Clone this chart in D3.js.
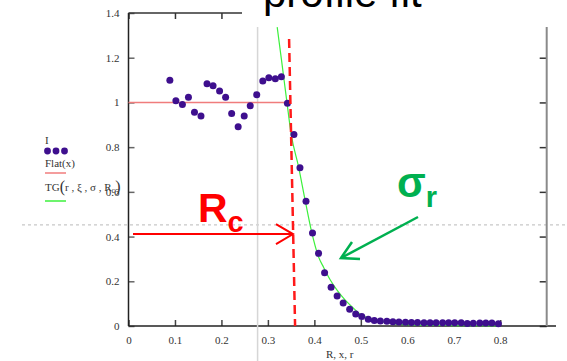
<!DOCTYPE html>
<html>
<head>
<meta charset="utf-8">
<script src="https://cdn.jsdelivr.net/npm/d3@7"></script>
<style>
  body { margin: 0; background: #fff; }
  svg { display: block; }
  .tick text { font-family: "Liberation Serif", "Times New Roman", serif; font-size: 11px; fill: #333; }
</style>
</head>
<body>
<svg id="chart" width="567" height="361"></svg>
<script>
// measured profile I(r)
const rValues = [0.089, 0.102, 0.116, 0.129, 0.142, 0.156, 0.169, 0.182, 0.196, 0.209,
  0.222, 0.236, 0.249, 0.262, 0.276, 0.289, 0.302, 0.316, 0.329, 0.342,
  0.356, 0.369, 0.382, 0.396, 0.409, 0.422, 0.436, 0.449, 0.462, 0.476,
  0.489, 0.502, 0.516, 0.529, 0.542, 0.556, 0.569, 0.582, 0.596, 0.609,
  0.622, 0.636, 0.649, 0.662, 0.676, 0.689, 0.702, 0.716, 0.729, 0.742,
  0.756, 0.769, 0.782, 0.796];
const iValues = [1.099, 1.008, 0.991, 1.023, 0.956, 0.939, 1.084, 1.075, 1.051, 1.023,
  0.951, 0.891, 0.939, 0.985, 1.034, 1.096, 1.110, 1.106, 1.115, 0.996,
  0.856, 0.708, 0.558, 0.416, 0.325, 0.238, 0.173, 0.134, 0.103, 0.075,
  0.054, 0.042, 0.030, 0.025, 0.022, 0.021, 0.019, 0.018, 0.017, 0.016,
  0.016, 0.015, 0.015, 0.015, 0.014, 0.014, 0.015, 0.014, 0.011, 0.012,
  0.013, 0.013, 0.013, 0.010];

// fitted curve TG(r, xi, sigma, Rc)
const fitR = [0.320, 0.330, 0.341, 0.350, 0.366, 0.380, 0.394, 0.409, 0.420, 0.434,
  0.450, 0.466, 0.482, 0.498, 0.520, 0.542, 0.565, 0.585, 0.620, 0.700, 0.800];
const fitI = [1.337, 1.178, 1.000, 0.859, 0.712, 0.564, 0.422, 0.309, 0.262, 0.207,
  0.157, 0.117, 0.084, 0.054, 0.033, 0.020, 0.012, 0.007, 0.004, 0.002, 0.001];

// Flat(x) level and markers
const flatLevel = 1;
const flatEnd = 0.346;
const rcTop = [0.3456, 1.2835];
const rcBottom = [0.3585, 0];
const rcArrow = [0.0097, 0.354, 0.411];
const greyLineX = 0.2778;
const dottedY = 0.452;

const xTicks = [0, 0.1, 0.2, 0.3, 0.4, 0.5, 0.6, 0.7, 0.8];
const yTicks = [0, 0.2, 0.4, 0.6, 0.8, 1, 1.2, 1.4];

const svg = d3.select('#chart');

const x = d3.scaleLinear().domain([0, 0.9]).range([128.5, 546.7]);
const y = d3.scaleLinear().domain([0, 1.4]).range([326, 13]);

const fmt = d => d === 0 ? '0' : d3.format('~g')(d);

// dotted grey guide across the page
svg.append('line')
  .attr('x1', 22).attr('x2', 567)
  .attr('y1', y(dottedY)).attr('y2', y(dottedY))
  .attr('stroke', '#c8c8c8').attr('stroke-width', 1.2)
  .attr('stroke-dasharray', '3,3');

// left axis
const gLeft = svg.append('g').attr('transform', `translate(${x(0)},0)`)
  .call(d3.axisLeft(y).tickValues(yTicks).tickFormat(fmt).tickSizeInner(-6).tickSizeOuter(0).tickPadding(9));
gLeft.select('.domain').remove();
gLeft.selectAll('.tick line').attr('stroke', '#666').attr('stroke-width', 1.5);

// bottom axis
const gBottom = svg.append('g').attr('transform', `translate(0,${y(0)})`)
  .call(d3.axisBottom(x).tickValues(xTicks).tickFormat(fmt).tickSizeInner(-6).tickSizeOuter(0).tickPadding(10));
gBottom.select('.domain').remove();
gBottom.selectAll('.tick line').attr('stroke', '#444').attr('stroke-width', 1.5);

// top axis ticks
const gTop = svg.append('g').attr('transform', `translate(0,${y(1.4)})`)
  .call(d3.axisTop(x).tickValues(xTicks).tickFormat('').tickSizeInner(-6).tickSizeOuter(0));
gTop.select('.domain').remove();
gTop.selectAll('.tick line').attr('stroke', '#333').attr('stroke-width', 1.5);

// right axis ticks
const gRight = svg.append('g').attr('transform', `translate(${x(0.9)},0)`)
  .call(d3.axisRight(y).tickValues(yTicks).tickFormat('').tickSizeInner(-7).tickSizeOuter(0));
gRight.select('.domain').remove();
gRight.selectAll('.tick line').attr('stroke', '#333').attr('stroke-width', 1.5);

// frame
svg.append('line').attr('x1', x(0)).attr('x2', x(0)).attr('y1', y(1.4)).attr('y2', y(0))
  .attr('stroke', '#222').attr('stroke-width', 1.5);
svg.append('line').attr('x1', x(0)).attr('x2', x(0.92)).attr('y1', y(0)).attr('y2', y(0))
  .attr('stroke', '#222').attr('stroke-width', 1.5);
svg.append('line').attr('x1', x(0)).attr('x2', x(0.9)).attr('y1', y(1.4)).attr('y2', y(1.4))
  .attr('stroke', '#333').attr('stroke-width', 1.5);
svg.append('line').attr('x1', x(0.9)).attr('x2', x(0.9)).attr('y1', y(1.4)).attr('y2', y(0))
  .attr('stroke', '#8a8a8a').attr('stroke-width', 2);

// light grey vertical line
svg.append('line')
  .attr('x1', x(greyLineX)).attr('x2', x(greyLineX))
  .attr('y1', 27).attr('y2', 361)
  .attr('stroke', '#d6d6d6').attr('stroke-width', 1.5);

// Flat(x)
svg.append('line')
  .attr('x1', x(0)).attr('x2', x(flatEnd))
  .attr('y1', y(flatLevel)).attr('y2', y(flatLevel))
  .attr('stroke', '#f07c7c').attr('stroke-width', 1.5);

// TG fit
const fitData = fitR.map((r, i) => [r, fitI[i]]);
svg.append('path')
  .datum(fitData)
  .attr('fill', 'none')
  .attr('stroke', '#3cf03c')
  .attr('stroke-width', 1.2)
  .attr('d', d3.line().x(d => x(d[0])).y(d => y(d[1])).curve(d3.curveMonotoneX));

// data points
svg.append('g').selectAll('circle')
  .data(rValues.map((r, i) => [r, iValues[i]]))
  .enter().append('circle')
  .attr('cx', d => x(d[0]))
  .attr('cy', d => y(d[1]))
  .attr('r', 3.5)
  .attr('fill', '#3e0f8e');

// Rc dashed marker
svg.append('line')
  .attr('x1', x(rcTop[0])).attr('y1', y(rcTop[1]))
  .attr('x2', x(rcBottom[0])).attr('y2', y(rcBottom[1]))
  .attr('stroke', '#ff1a1a').attr('stroke-width', 2.5)
  .attr('stroke-dasharray', '9,5');

// white box behind the title
svg.append('rect').attr('x', 242).attr('y', 0).attr('width', 325).attr('height', 27).attr('fill', '#fff');
svg.append('text')
  .attr('x', 263).attr('y', 7)
  .attr('font-family', '"Liberation Sans", Arial, sans-serif')
  .attr('font-size', 42)
  .attr('fill', '#000')
  .text('profile fit');

// Rc arrow
const ay = y(rcArrow[2]), ax2 = x(rcArrow[1]);
svg.append('line')
  .attr('x1', x(rcArrow[0])).attr('x2', ax2).attr('y1', ay).attr('y2', ay)
  .attr('stroke', '#ff0000').attr('stroke-width', 2);
svg.append('path')
  .attr('d', `M${ax2 - 17},${ay - 10}L${ax2},${ay}L${ax2 - 17},${ay + 10}`)
  .attr('fill', 'none').attr('stroke', '#ff0000').attr('stroke-width', 2);

const rc = svg.append('text')
  .attr('x', 198).attr('y', 222)
  .attr('font-family', '"Liberation Sans", Arial, sans-serif')
  .attr('font-weight', 'bold')
  .attr('fill', '#ff0000')
  .attr('font-size', 41);
rc.append('tspan').text('R');
rc.append('tspan').attr('dy', 10).attr('font-size', 29).text('c');

// sigma_r arrow
svg.append('line')
  .attr('x1', 418).attr('y1', 217).attr('x2', 341).attr('y2', 258)
  .attr('stroke', '#00b050').attr('stroke-width', 2.5);
svg.append('path')
  .attr('d', 'M352,242L341,258L360,259')
  .attr('fill', 'none').attr('stroke', '#00b050').attr('stroke-width', 2.5);

const sg = svg.append('text')
  .attr('x', 397).attr('y', 197)
  .attr('font-family', '"Liberation Sans", Arial, sans-serif')
  .attr('font-weight', 'bold')
  .attr('fill', '#00b050')
  .attr('font-size', 42);
sg.append('tspan').text('σ');
sg.append('tspan').attr('dy', 10).attr('font-size', 29).text('r');

// axis title
svg.append('text')
  .attr('x', 326).attr('y', 358)
  .attr('font-family', '"Liberation Serif", "Times New Roman", serif')
  .attr('font-size', 11).attr('fill', '#333')
  .text('R, x, r');

// legend
const legend = svg.append('g')
  .attr('font-family', '"Liberation Serif", "Times New Roman", serif')
  .attr('font-size', 11).attr('fill', '#333');
legend.append('text').attr('x', 45).attr('y', 144).text('I');
legend.selectAll('circle').data([47.5, 56, 64.5]).enter().append('circle')
  .attr('cx', d => d).attr('cy', 151).attr('r', 3.4).attr('fill', '#3e0f8e');
legend.append('text').attr('x', 45).attr('y', 167).text('Flat(x)');
legend.append('line').attr('x1', 45).attr('x2', 66).attr('y1', 173).attr('y2', 173)
  .attr('stroke', '#f07c7c').attr('stroke-width', 1.5);
const tg = legend.append('text').attr('x', 45).attr('y', 191);
tg.append('tspan').text('TG');
tg.append('tspan').attr('font-size', 16).attr('dy', 1).text('(');
tg.append('tspan').attr('dy', -1).text('r , ξ , σ , R');
tg.append('tspan').attr('font-size', 8).attr('dy', 2).text('c');
tg.append('tspan').attr('font-size', 16).attr('dy', -1).text(')');
legend.append('line').attr('x1', 45).attr('x2', 66).attr('y1', 201).attr('y2', 201)
  .attr('stroke', '#3cf03c').attr('stroke-width', 1.5);
</script>
</body>
</html>
